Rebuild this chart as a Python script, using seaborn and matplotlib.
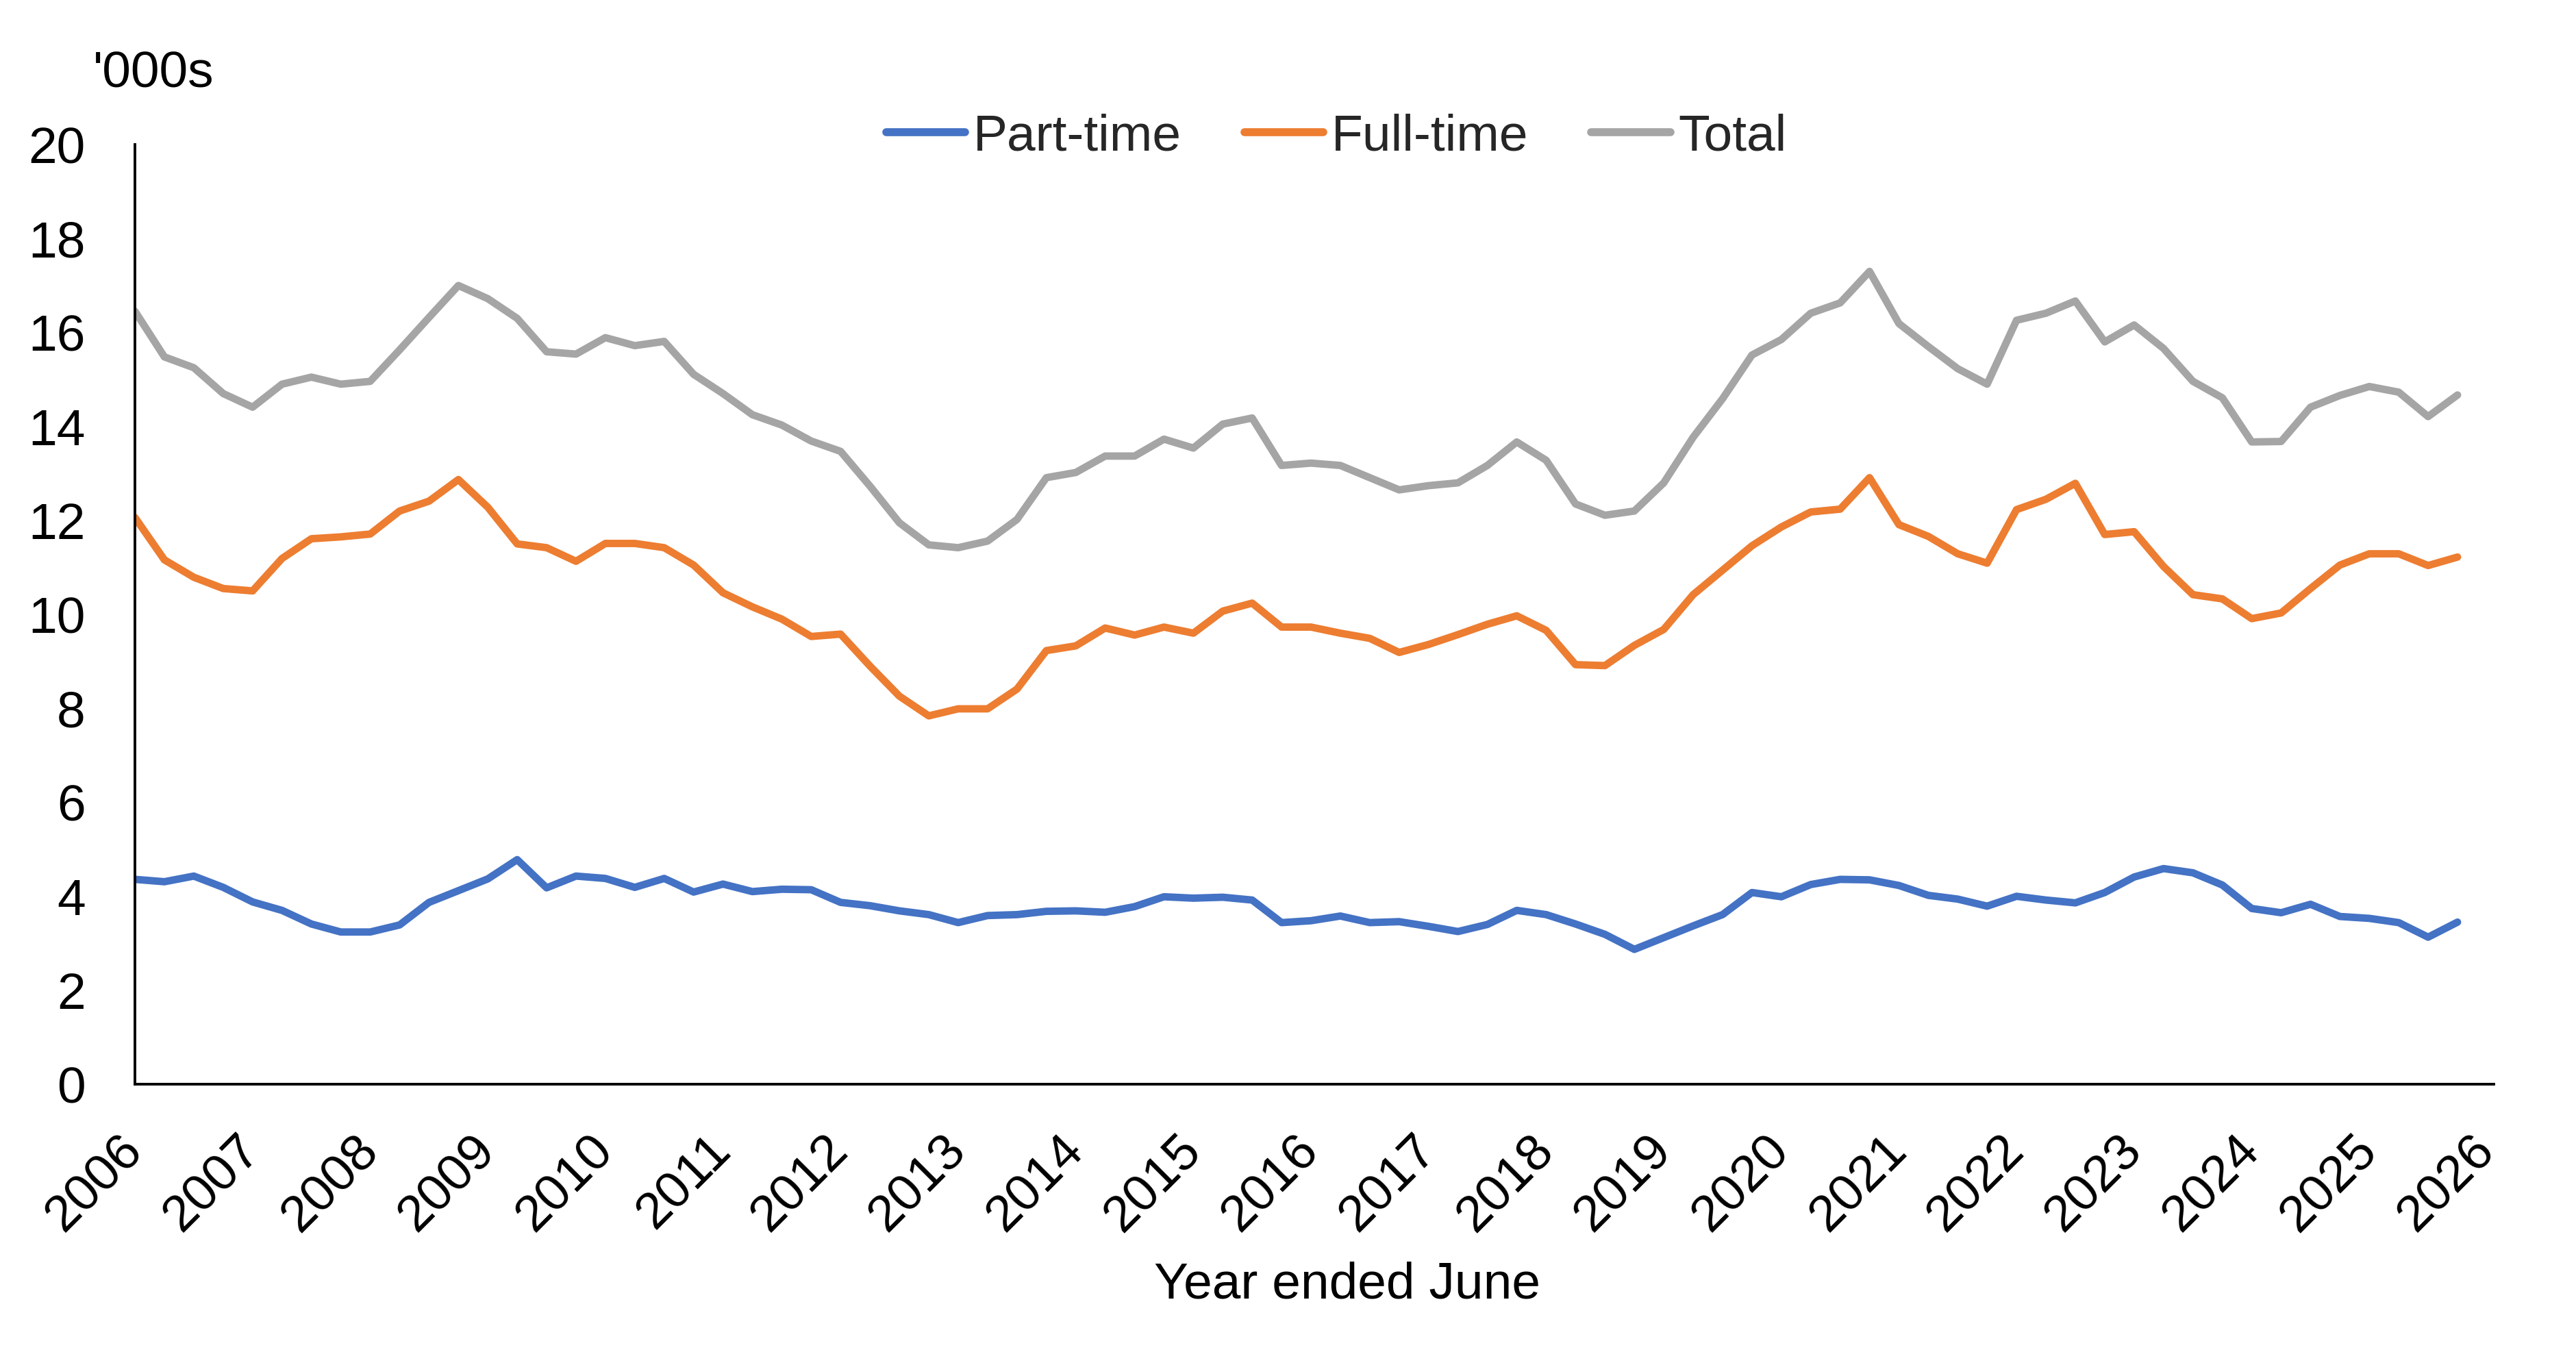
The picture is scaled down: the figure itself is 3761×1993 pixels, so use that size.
import numpy as np
import pandas as pd
import seaborn as sns
import matplotlib.pyplot as plt

# Quarterly series, year ended June ('000s)
part_time = [4.36, 4.31, 4.43, 4.19, 3.88, 3.70, 3.41, 3.24, 3.24, 3.39,
             3.87, 4.12, 4.37, 4.78, 4.18, 4.43, 4.38, 4.19, 4.38, 4.09,
             4.26, 4.10, 4.15, 4.14, 3.87, 3.80, 3.69, 3.61, 3.44, 3.59,
             3.61, 3.68, 3.69, 3.66, 3.78, 3.99, 3.96, 3.98, 3.92, 3.44,
             3.48, 3.58, 3.44, 3.46, 3.36, 3.25, 3.40, 3.70, 3.61, 3.41,
             3.19, 2.87, 3.12, 3.37, 3.61, 4.08, 3.99, 4.25, 4.36, 4.35,
             4.23, 4.02, 3.94, 3.79, 4.00, 3.92, 3.86, 4.08, 4.41, 4.59,
             4.50, 4.24, 3.74, 3.65, 3.83, 3.57, 3.53, 3.44, 3.13, 3.45]

full_time = [12.06, 11.16, 10.79, 10.55, 10.50, 11.19, 11.61, 11.65, 11.71, 12.20,
             12.41, 12.87, 12.28, 11.50, 11.42, 11.13, 11.51, 11.51, 11.42, 11.05,
             10.46, 10.16, 9.90, 9.53, 9.58, 8.90, 8.26, 7.84, 7.99, 7.99,
             8.41, 9.23, 9.33, 9.71, 9.56, 9.73, 9.60, 10.07, 10.24, 9.73,
             9.73, 9.60, 9.49, 9.19, 9.36, 9.57, 9.79, 9.97, 9.66, 8.93,
             8.91, 9.34, 9.68, 10.42, 10.94, 11.46, 11.86, 12.18, 12.24, 12.91,
             11.91, 11.66, 11.29, 11.09, 12.23, 12.45, 12.79, 11.70, 11.76, 11.02,
             10.42, 10.33, 9.91, 10.03, 10.55, 11.05, 11.29, 11.29, 11.04, 11.22]

total = [16.45, 15.48, 15.25, 14.70, 14.41, 14.90, 15.05, 14.90, 14.96, 15.63,
         16.32, 17.00, 16.72, 16.30, 15.59, 15.54, 15.89, 15.72, 15.81, 15.11,
         14.70, 14.25, 14.03, 13.69, 13.47, 12.73, 11.95, 11.48, 11.42, 11.56,
         12.02, 12.91, 13.02, 13.37, 13.37, 13.73, 13.54, 14.05, 14.18, 13.17,
         13.22, 13.17, 12.91, 12.65, 12.74, 12.80, 13.17, 13.67, 13.28, 12.35,
         12.11, 12.20, 12.80, 13.77, 14.59, 15.52, 15.85, 16.41, 16.63, 17.30,
         16.19, 15.70, 15.23, 14.90, 16.26, 16.41, 16.67, 15.80, 16.16, 15.66,
         14.96, 14.61, 13.67, 13.68, 14.41, 14.66, 14.85, 14.73, 14.21, 14.67]

series_names = ['Part-time', 'Full-time', 'Total']
colors = ['#4472C4', '#ED7D31', '#A5A5A5']
year_ticks = list(range(2006, 2027))

# quarters from 2006 onwards
quarters = 2006 + np.arange(len(total)) / 4

df = pd.concat([
    pd.DataFrame({'quarter': quarters, 'value': vals, 'series': name})
    for name, vals in zip(series_names, [part_time, full_time, total])
], ignore_index=True)

sns.set_theme(style='white')
plt.rcParams['font.family'] = ['Liberation Sans', 'DejaVu Sans']

fig = plt.figure(figsize=(18.81, 9.965), dpi=200)
ax = fig.add_axes([0.0524, 0.2057, 0.9155, 0.6884])

sns.lineplot(data=df, x='quarter', y='value', hue='series',
             hue_order=series_names, palette=dict(zip(series_names, colors)),
             linewidth=3.9, ax=ax, legend=True)
for ln in ax.lines:
    ln.set_solid_capstyle('round')
    ln.set_solid_joinstyle('round')

ax.set_xlim(2006, 2026.06)
ax.set_ylim(0, 20)
ax.set_yticks(range(0, 21, 2))
ax.set_xticks(year_ticks)
ax.set_xticklabels([str(y) for y in year_ticks], rotation=45, ha='right',
                   va='center', rotation_mode='anchor')
ax.tick_params(axis='y', length=0, pad=26, labelsize=27, colors='black')
ax.tick_params(axis='x', length=0, pad=31, labelsize=27, colors='black')

for s in ['top', 'right']:
    ax.spines[s].set_visible(False)
for s in ['left', 'bottom']:
    ax.spines[s].set_color('black')
    ax.spines[s].set_linewidth(1.4)

ax.set_ylabel('')
ax.set_xlabel('Year ended June', fontsize=27, color='black')
ax.xaxis.set_label_coords(0.514, -0.2136)
ax.xaxis.label.set_va('center')

fig.text(136 / 3762, 1 - 128 / 1993, "'000s", fontsize=27, ha='left',
         va='baseline', color='black')

handles, labels = ax.get_legend_handles_labels()
for h in handles:
    h.set_linewidth(4.2)
    h.set_solid_capstyle('round')
ax.legend(handles, labels, loc='center', bbox_to_anchor=(0.5093, 1.008),
          ncol=3, frameon=False, fontsize=27, handlelength=1.54,
          handletextpad=0.15, columnspacing=1.23)

fig.savefig('out.png', dpi=200, facecolor='white')
